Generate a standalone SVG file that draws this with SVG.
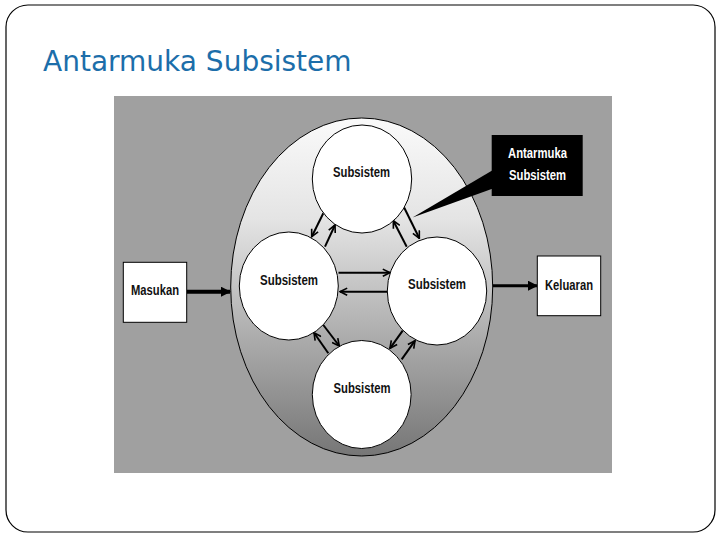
<svg xmlns="http://www.w3.org/2000/svg" width="720" height="540" viewBox="0 0 720 540">
<defs>
<linearGradient id="eg" x1="0" y1="0" x2="0" y2="1">
<stop offset="0" stop-color="#fafafa"/>
<stop offset="0.3" stop-color="#e4e4e4"/>
<stop offset="0.65" stop-color="#acacac"/>
<stop offset="1" stop-color="#767676"/>
</linearGradient>
<marker id="v" viewBox="0 0 10 10" refX="9" refY="5" markerWidth="9" markerHeight="9" markerUnits="userSpaceOnUse" orient="auto">
<path d="M1,1 L9,5 L1,9" fill="none" stroke="#000" stroke-width="1.8"/>
</marker>
<marker id="t" viewBox="0 0 10 10" refX="9" refY="5" markerWidth="10" markerHeight="10" markerUnits="userSpaceOnUse" orient="auto">
<path d="M0,0 L10,5 L0,10 Z" fill="#000"/>
</marker>
<style>
.c{fill:#fff;stroke:#000;stroke-width:1}
.b{fill:#fff;stroke:#000;stroke-width:1}
.lbl{font-family:"Liberation Sans",Arial,sans-serif;font-weight:bold;font-size:14px;fill:#111;text-anchor:middle}
.ar{stroke:#000;stroke-width:2;fill:none;marker-end:url(#v)}
</style>
</defs>
<rect x="0" y="0" width="720" height="540" fill="#fff"/>
<rect x="6" y="5" width="709" height="527" rx="22" ry="22" fill="#fff" stroke="#000" stroke-width="1.2"/>
<text x="43" y="71" font-family="DejaVu Sans,Verdana,sans-serif" font-size="28" fill="#1c6eaa">Antarmuka Subsistem</text>
<rect x="114" y="96" width="498" height="377" fill="#a0a0a0"/>
<ellipse id="system" cx="361.7" cy="287" rx="131" ry="169" fill="url(#eg)" stroke="#000" stroke-width="1"/>
<g id="connectors">
<line x1="186.7" y1="291.7" x2="230" y2="291.7" stroke="#000" stroke-width="4" marker-end="url(#t)"/>
<line x1="493" y1="285.7" x2="537" y2="285.7" stroke="#000" stroke-width="3" marker-end="url(#t)"/>
<line class="ar" x1="338.5" y1="272.7" x2="390" y2="272.7"/>
<line class="ar" x1="387" y1="291.7" x2="340" y2="291.7"/>
<line class="ar" x1="323.3" y1="213.3" x2="311.7" y2="236.7"/>
<line class="ar" x1="325" y1="246.7" x2="335" y2="225"/>
<line class="ar" x1="404" y1="207.3" x2="419.3" y2="238.3"/>
<line class="ar" x1="406.7" y1="246.7" x2="393.3" y2="220.7"/>
<line class="ar" x1="323.3" y1="325" x2="339.3" y2="346"/>
<line class="ar" x1="328.3" y1="353.3" x2="314" y2="332.7"/>
<line class="ar" x1="402.7" y1="330.7" x2="390" y2="348.3"/>
<line class="ar" x1="401.7" y1="359.3" x2="415" y2="340.7"/>
</g>
<g id="sub-top">
<ellipse class="c" cx="362" cy="179" rx="49.7" ry="54"/>
<text class="lbl" x="361.5" y="177" textLength="57" lengthAdjust="spacingAndGlyphs">Subsistem</text>
</g>
<g id="sub-left">
<ellipse class="c" cx="288.8" cy="286" rx="49.5" ry="54"/>
<text class="lbl" x="289" y="285" textLength="58" lengthAdjust="spacingAndGlyphs">Subsistem</text>
</g>
<g id="sub-right">
<ellipse class="c" cx="437" cy="291" rx="49.7" ry="54"/>
<text class="lbl" x="437" y="289.3" textLength="58" lengthAdjust="spacingAndGlyphs">Subsistem</text>
</g>
<g id="sub-bottom">
<ellipse class="c" cx="361.7" cy="394.5" rx="49.4" ry="54"/>
<text class="lbl" x="362" y="392.7" textLength="57" lengthAdjust="spacingAndGlyphs">Subsistem</text>
</g>
<g id="masukan">
<rect class="b" x="123.3" y="262.3" width="63.4" height="60"/>
<text class="lbl" x="155" y="295" textLength="48" lengthAdjust="spacingAndGlyphs">Masukan</text>
</g>
<g id="keluaran">
<rect class="b" x="537.3" y="256" width="63.4" height="59.7"/>
<text class="lbl" x="569" y="290" textLength="48" lengthAdjust="spacingAndGlyphs">Keluaran</text>
</g>
<g id="antarmuka">
<polygon points="493,170 493,188.5 412.5,217.5" fill="#000"/>
<rect x="491.7" y="135" width="91" height="61" fill="#000"/>
<text class="lbl" x="537.5" y="158.3" style="fill:#fff" textLength="59" lengthAdjust="spacingAndGlyphs">Antarmuka</text>
<text class="lbl" x="537.5" y="180" style="fill:#fff" textLength="57" lengthAdjust="spacingAndGlyphs">Subsistem</text>
</g>
</svg>
